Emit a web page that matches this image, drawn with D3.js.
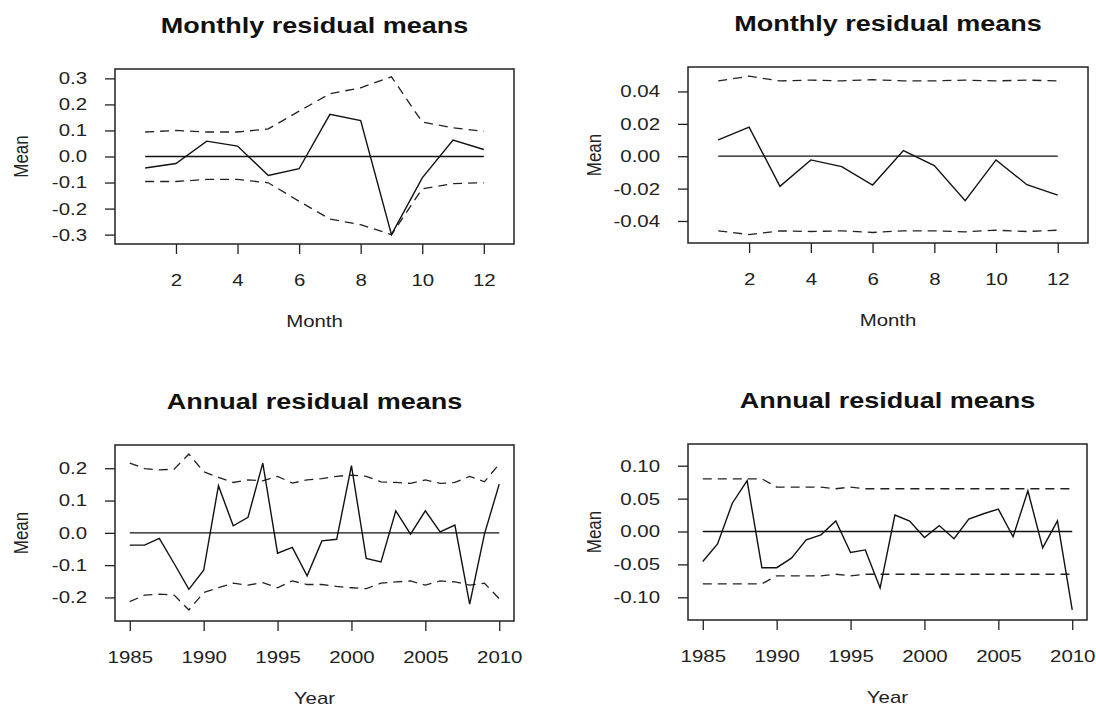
<!DOCTYPE html>
<html>
<head>
<meta charset="utf-8">
<script src="https://cdn.jsdelivr.net/npm/d3@7"></script>
<style>
  html, body { margin: 0; padding: 0; background: #fff; }
  svg { display: block; }
  text { font-family: "Liberation Sans", Arial, sans-serif; }
</style>
</head>
<body>
<svg id="chart" width="1096" height="707"></svg>
<script>
// ---------------- data ----------------
const months = [1, 2, 3, 4, 5, 6, 7, 8, 9, 10, 11, 12];
const monthMeanA  = [-0.044, -0.027, 0.059, 0.040, -0.073, -0.047, 0.162, 0.138, -0.300, -0.082, 0.063, 0.027];
const monthUpperA = [0.094, 0.100, 0.094, 0.094, 0.106, 0.174, 0.241, 0.264, 0.306, 0.132, 0.110, 0.097];
const monthLowerA = [-0.096, -0.096, -0.088, -0.088, -0.101, -0.172, -0.240, -0.262, -0.300, -0.124, -0.104, -0.101];

const monthMeanB  = [0.0101, 0.0180, -0.0186, -0.0023, -0.0064, -0.0178, 0.0035, -0.0058, -0.0275, -0.0023, -0.0176, -0.0240];
const monthUpperB = [0.0465, 0.0494, 0.0465, 0.0470, 0.0465, 0.0473, 0.0465, 0.0465, 0.0470, 0.0465, 0.0470, 0.0465];
const monthLowerB = [-0.0461, -0.0484, -0.0461, -0.0465, -0.0461, -0.0471, -0.0461, -0.0461, -0.0467, -0.0457, -0.0465, -0.0457];

const years = [1985, 1986, 1987, 1988, 1989, 1990, 1991, 1992, 1993, 1994, 1995, 1996, 1997,
               1998, 1999, 2000, 2001, 2002, 2003, 2004, 2005, 2006, 2007, 2008, 2009, 2010];
const yearMeanA  = [-0.038, -0.038, -0.017, -0.095, -0.175, -0.116, 0.146, 0.022, 0.048, 0.216, -0.063, -0.045, -0.133,
                    -0.025, -0.020, 0.208, -0.079, -0.090, 0.068, -0.004, 0.068, 0.003, 0.024, -0.221, -0.004, 0.151];
const yearUpperA = [0.216, 0.199, 0.195, 0.197, 0.244, 0.189, 0.172, 0.156, 0.164, 0.161, 0.175, 0.154, 0.164,
                    0.168, 0.175, 0.179, 0.175, 0.158, 0.156, 0.153, 0.164, 0.153, 0.156, 0.175, 0.158, 0.213];
const yearLowerA = [-0.213, -0.193, -0.190, -0.193, -0.239, -0.185, -0.170, -0.156, -0.162, -0.154, -0.170, -0.149, -0.160,
                    -0.160, -0.166, -0.170, -0.173, -0.156, -0.152, -0.149, -0.162, -0.149, -0.152, -0.162, -0.156, -0.204];

const yearMeanB  = [-0.0456, -0.019, 0.043, 0.0775, -0.055, -0.055, -0.0405, -0.0127, -0.005, 0.016, -0.032, -0.028, -0.086,
                    0.025, 0.016, -0.009, 0.009, -0.011, 0.019, 0.027, 0.034, -0.008, 0.062, -0.025, 0.016, -0.119];
const yearUpperB = [0.080, 0.080, 0.080, 0.080, 0.080, 0.0675, 0.0675, 0.0675, 0.0675, 0.065, 0.0675, 0.065, 0.065,
                    0.065, 0.065, 0.065, 0.065, 0.065, 0.065, 0.065, 0.065, 0.065, 0.065, 0.065, 0.065, 0.065];
const yearLowerB = [-0.0795, -0.0795, -0.0795, -0.0795, -0.0795, -0.0673, -0.0673, -0.0673, -0.0673, -0.065, -0.0673, -0.065, -0.065,
                    -0.065, -0.065, -0.065, -0.065, -0.065, -0.065, -0.065, -0.065, -0.065, -0.065, -0.065, -0.065, -0.065];

const monthTicks = [2, 4, 6, 8, 10, 12];
const yearTicks = [1985, 1990, 1995, 2000, 2005, 2010];
const yTicksA = [-0.3, -0.2, -0.1, 0.0, 0.1, 0.2, 0.3];
const yTicksB = [-0.04, -0.02, 0.00, 0.02, 0.04];
const yTicksC = [-0.2, -0.1, 0.0, 0.1, 0.2];
const yTicksD = [-0.10, -0.05, 0.00, 0.05, 0.10];

const titleMonthly = "Monthly residual means";
const titleAnnual = "Annual residual means";

// ---------------- layout ----------------
const STRETCH = 1.2;
const svg = d3.select("#chart");

const panels = [
  { box: [115, 69, 514, 244], x: months, mean: monthMeanA, up: monthUpperA, lo: monthLowerA,
    xDomain: [0.02, 12.98], yDomain: [-0.336, 0.336], xTicks: monthTicks, yTicks: yTicksA, yFmt: ".1f",
    title: titleMonthly, xLabel: "Month" },
  { box: [688, 67, 1088, 243], x: months, mean: monthMeanB, up: monthUpperB, lo: monthLowerB,
    xDomain: [0.02, 12.98], yDomain: [-0.0536, 0.0551], xTicks: monthTicks, yTicks: yTicksB, yFmt: ".2f",
    title: titleMonthly, xLabel: "Month" },
  { box: [115, 445, 514, 621], x: years, mean: yearMeanA, up: yearUpperA, lo: yearLowerA,
    xDomain: [1984, 2011], yDomain: [-0.273, 0.272], xTicks: yearTicks, yTicks: yTicksC, yFmt: ".1f",
    title: titleAnnual, xLabel: "Year" },
  { box: [688, 444, 1087, 620], x: years, mean: yearMeanB, up: yearUpperB, lo: yearLowerB,
    xDomain: [1984, 2011], yDomain: [-0.1345, 0.133], xTicks: yearTicks, yTicks: yTicksD, yFmt: ".2f",
    title: titleAnnual, xLabel: "Year" }
];

function stretchText(sel) {
  sel.each(function() {
    const len = this.getComputedTextLength();
    d3.select(this).attr("textLength", len * STRETCH).attr("lengthAdjust", "spacingAndGlyphs");
  });
}

panels.forEach(p => {
  const [x0, y0, x1, y1] = p.box;
  const xs = d3.scaleLinear().domain(p.xDomain).range([x0, x1]);
  const ys = d3.scaleLinear().domain(p.yDomain).range([y1, y0]);
  const g = svg.append("g");

  // title
  g.append("text")
    .attr("x", (x0 + x1) / 2).attr("y", y0 - 36)
    .attr("text-anchor", "middle")
    .attr("font-size", 22.5).attr("font-weight", "bold").attr("fill", "#111")
    .text(p.title)
    .call(stretchText);

  // x axis
  const xAxis = d3.axisBottom(xs).tickValues(p.xTicks).tickSize(10).tickPadding(20)
    .tickFormat(d3.format("d"));
  const gx = g.append("g").attr("transform", `translate(0,${y1})`).call(xAxis);
  gx.select(".domain").remove();
  gx.selectAll(".tick line").attr("stroke", "#222").attr("stroke-width", 1.3);
  gx.selectAll(".tick text").attr("font-size", 17).attr("fill", "#222")
    .attr("font-family", "Liberation Sans, Arial, sans-serif")
    .call(stretchText);

  // y axis
  const yAxis = d3.axisLeft(ys).tickValues(p.yTicks).tickSize(10).tickPadding(18)
    .tickFormat(d => d3.format(p.yFmt)(d).replace("\u2212", "-"));
  const gy = g.append("g").attr("transform", `translate(${x0},0)`).call(yAxis);
  gy.select(".domain").remove();
  gy.selectAll(".tick line").attr("stroke", "#222").attr("stroke-width", 1.3);
  gy.selectAll(".tick text").attr("font-size", 17).attr("fill", "#222")
    .attr("font-family", "Liberation Sans, Arial, sans-serif")
    .call(stretchText);

  // axis titles
  g.append("text")
    .attr("x", (x0 + x1) / 2).attr("y", y1 + 83)
    .attr("text-anchor", "middle").attr("font-size", 17).attr("fill", "#222")
    .text(p.xLabel)
    .call(stretchText);
  g.append("text")
    .attr("transform", `translate(${x0 - 87},${(y0 + y1) / 2}) scale(${STRETCH},1) rotate(-90)`)
    .attr("text-anchor", "middle").attr("font-size", 17).attr("fill", "#222")
    .text("Mean");

  // box
  g.append("rect")
    .attr("x", x0).attr("y", y0).attr("width", x1 - x0).attr("height", y1 - y0)
    .attr("fill", "none").attr("stroke", "#222").attr("stroke-width", 1.5);

  const line = d3.line().x(d => xs(d[0])).y(d => ys(d[1]));

  // zero reference line
  const xr = d3.extent(p.x);
  g.append("path").datum([[xr[0], 0], [xr[1], 0]])
    .attr("d", line).attr("fill", "none").attr("stroke", "#111").attr("stroke-width", 1.3);

  // bounds
  [p.up, p.lo].forEach(arr => {
    g.append("path").datum(p.x.map((v, i) => [v, arr[i]]))
      .attr("d", line).attr("fill", "none").attr("stroke", "#222")
      .attr("stroke-width", 1.3).attr("stroke-dasharray", "9,6");
  });

  // means
  g.append("path").datum(p.x.map((v, i) => [v, p.mean[i]]))
    .attr("d", line).attr("fill", "none").attr("stroke", "#111").attr("stroke-width", 1.4)
    .attr("stroke-linejoin", "miter");
});
</script>
</body>
</html>
